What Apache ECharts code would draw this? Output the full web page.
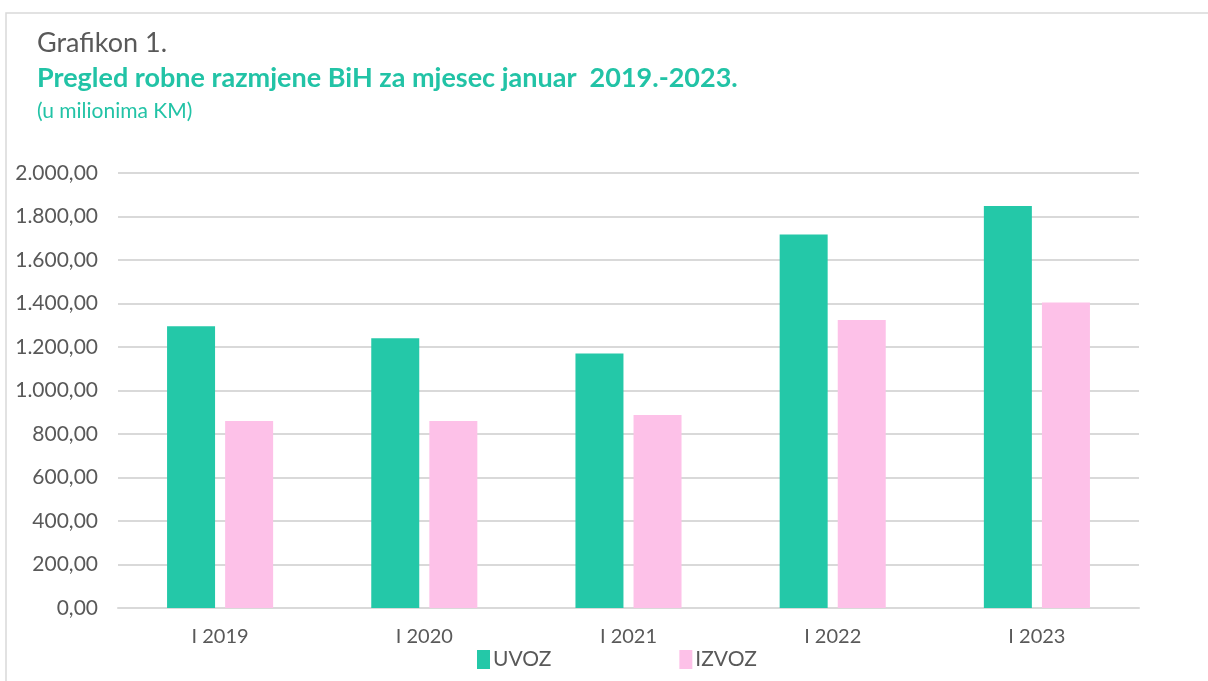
<!DOCTYPE html>
<html>
<head>
<meta charset="utf-8">
<script src="https://cdn.jsdelivr.net/npm/echarts@6/dist/echarts.min.js"></script>
<style>
  html, body { margin: 0; padding: 0; background: #fff; }
  #chart { width: 1208px; height: 681px; }
</style>
</head>
<body>
<div id="chart"></div>
<script>
// podaci
const categories = ['I 2019', 'I 2020', 'I 2021', 'I 2022', 'I 2023'];
const uvoz = [1295, 1240, 1170, 1717, 1848];
const izvoz = [860, 860, 887, 1324, 1405];

const fmt = function (v) {
  let parts = v.toFixed(2).split('.');
  parts[0] = parts[0].replace(/\B(?=(\d{3})+(?!\d))/g, '.');
  return parts[0] + ',' + parts[1];
};

let chart = echarts.init(document.getElementById('chart'));
chart.setOption({
  animation: false,
  textStyle: { fontFamily: 'Lato' },
  graphic: [
    {
      type: 'rect',
      shape: { x: 6, y: 13, width: 1400, height: 800 },
      style: { fill: 'none', stroke: '#d9d9d9', lineWidth: 1.5 }
    },
    {
      type: 'text', left: 37, top: 30,
      style: { text: 'Grafikon 1.', fill: '#595959', font: '27px Lato' }
    },
    {
      type: 'text', left: 37, top: 65,
      style: { text: 'Pregled robne razmjene BiH za mjesec januar  2019.-2023.', fill: '#22c3a6', font: 'bold 27px Lato' }
    },
    {
      type: 'text', left: 37, top: 101,
      style: { text: '(u milionima KM)', fill: '#22c3a6', font: '21px Lato' }
    }
  ],
  legend: {
    bottom: 6,
    left: 472,
    itemWidth: 13,
    itemHeight: 19,
    itemGap: 128,
    itemStyle: { borderWidth: 0 },
    icon: 'rect',
    textStyle: { color: '#595959', fontSize: 21, padding: [0, 0, 0, -2] },
    data: ['UVOZ', 'IZVOZ']
  },
  grid: { left: 118, right: 69, top: 173, bottom: 73 },
  xAxis: {
    type: 'category',
    data: categories,
    axisTick: { show: false },
    axisLine: { lineStyle: { color: '#d9d9d9', width: 2 } },
    axisLabel: { color: '#595959', fontSize: 20, margin: 19 }
  },
  yAxis: {
    type: 'value',
    min: 0,
    max: 2000,
    interval: 200,
    axisLabel: { color: '#595959', fontSize: 21, margin: 20, formatter: fmt },
    splitLine: { lineStyle: { color: '#d9d9d9', width: 2 } }
  },
  series: [
    {
      name: 'UVOZ',
      type: 'bar',
      data: uvoz,
      barWidth: 48,
      barGap: '21%',
      itemStyle: { color: '#24c8a8' }
    },
    {
      name: 'IZVOZ',
      type: 'bar',
      data: izvoz,
      barWidth: 48,
      itemStyle: { color: '#fdc1e8' }
    }
  ]
});
</script>
</body>
</html>
